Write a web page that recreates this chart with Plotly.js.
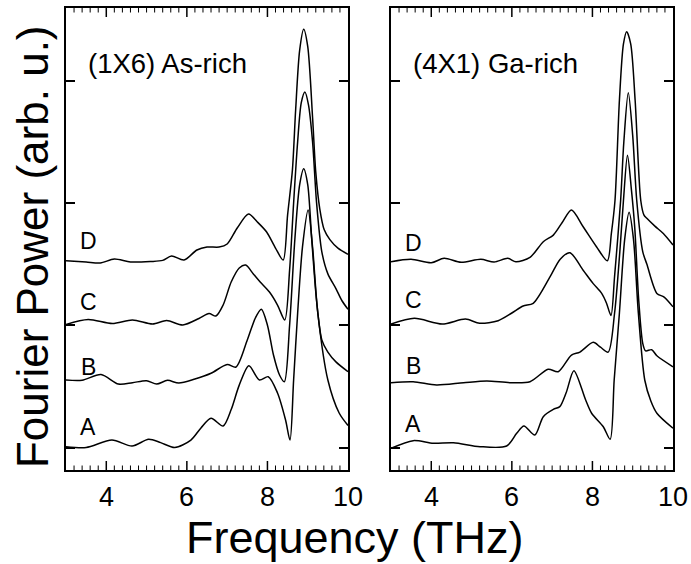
<!DOCTYPE html>
<html>
<head>
<meta charset="utf-8">
<script src="https://cdn.plot.ly/plotly-3.0.1.min.js"></script>
<style>html,body{margin:0;padding:0;background:#fff;}</style>
</head>
<body>
<div id="chart"></div>
<script>
// ---- Data (frequency in THz, Fourier power in arb. units incl. vertical offset) ----
const curveLabels = ["A", "B", "C", "D"];
const panelTitles = ["(1X6) As-rich", "(4X1) Ga-rich"];
const xTickVals = [4, 6, 8, 10];
const xMinorStep = 0.2;

// (1X6) As-rich
const asA_f = [3.0, 3.5, 4.14, 4.64, 5.05, 5.35, 5.7, 6.1, 6.35, 6.6, 6.9, 7.1, 7.3, 7.54, 7.8, 8.02, 8.25, 8.45, 8.56, 8.65, 8.75, 8.87, 9.01, 9.12, 9.25, 9.5, 9.78, 10.0];
const asA_y = [0.007, 0.0, 0.061, 0.012, 0.067, 0.04, 0.0, 0.061, 0.16, 0.239, 0.176, 0.31, 0.51, 0.669, 0.552, 0.579, 0.446, 0.225, 0.061, 0.552, 1.1, 1.64, 1.942, 1.64, 1.10, 0.552, 0.282, 0.18];

const asB_f = [3.0, 3.4, 3.87, 4.3, 4.65, 5.0, 5.25, 5.52, 5.8, 6.2, 6.6, 7.0, 7.22, 7.5, 7.7, 7.85, 8.0, 8.15, 8.3, 8.42, 8.55, 8.68, 8.8, 8.9, 9.0, 9.1, 9.22, 9.35, 9.5, 9.7, 10.0];
const asB_y = [0.552, 0.55, 0.597, 0.519, 0.53, 0.546, 0.519, 0.549, 0.527, 0.56, 0.607, 0.679, 0.658, 0.879, 1.059, 1.13, 1.0, 0.756, 0.593, 0.538, 1.0, 1.7, 2.15, 2.28, 2.15, 1.7, 1.2, 0.88, 0.78, 0.7, 0.62];

const asC_f = [3.0, 3.55, 4.15, 4.65, 5.15, 5.5, 5.9, 6.3, 6.55, 6.72, 6.9, 7.1, 7.3, 7.46, 7.65, 7.82, 8.05, 8.25, 8.43, 8.55, 8.65, 8.75, 8.84, 8.93, 9.02, 9.12, 9.22, 9.35, 9.5, 9.7, 9.85, 10.0];
const asC_y = [1.006, 1.047, 1.014, 1.043, 1.01, 1.038, 1.002, 1.055, 1.096, 1.075, 1.165, 1.353, 1.468, 1.492, 1.419, 1.353, 1.271, 1.165, 1.043, 1.45, 2.0, 2.5, 2.82, 2.907, 2.8, 2.5, 2.0, 1.6, 1.42, 1.3, 1.2, 1.13];

const asD_f = [3.0, 3.5, 3.85, 4.2, 4.6, 5.1, 5.4, 5.62, 5.93, 6.25, 6.5, 6.8, 7.0, 7.25, 7.53, 7.75, 7.98, 8.2, 8.39, 8.5, 8.62, 8.7, 8.8, 8.9, 9.0, 9.12, 9.2, 9.3, 9.41, 9.55, 9.75, 10.0];
const asD_y = [1.527, 1.517, 1.509, 1.541, 1.517, 1.521, 1.53, 1.566, 1.533, 1.615, 1.639, 1.639, 1.664, 1.795, 1.909, 1.844, 1.762, 1.631, 1.533, 1.9, 2.27, 2.76, 3.25, 3.42, 3.28, 2.7, 2.25, 1.95, 1.78, 1.7, 1.63, 1.58];

// (4X1) Ga-rich
const gaA_f = [3.0, 3.55, 4.05, 4.55, 5.21, 5.87, 6.12, 6.3, 6.57, 6.78, 7.03, 7.19, 7.35, 7.54, 7.83, 7.98, 8.27, 8.44, 8.54, 8.67, 8.8, 8.91, 9.02, 9.14, 9.3, 9.45, 9.6, 10.0];
const gaA_y = [-0.007, 0.056, 0.034, 0.039, 0.007, 0.012, 0.116, 0.176, 0.102, 0.252, 0.312, 0.334, 0.45, 0.628, 0.39, 0.28, 0.17, 0.067, 0.552, 1.1, 1.7, 1.923, 1.7, 1.1, 0.55, 0.38, 0.28, 0.157];

const gaB_f = [3.0, 3.55, 4.13, 4.8, 5.38, 5.95, 6.45, 6.9, 7.15, 7.48, 7.69, 8.02, 8.2, 8.39, 8.55, 8.68, 8.77, 8.87, 8.97, 9.05, 9.15, 9.25, 9.32, 9.47, 9.6, 10.0];
const gaB_y = [0.53, 0.538, 0.511, 0.53, 0.544, 0.53, 0.538, 0.64, 0.62, 0.756, 0.78, 0.86, 0.82, 0.78, 1.1, 1.6, 2.02, 2.39, 2.1, 1.8, 1.2, 0.85, 0.79, 0.8, 0.75, 0.66];

const gaC_f = [3.0, 3.58, 4.27, 4.85, 5.2, 5.66, 6.0, 6.28, 6.53, 6.95, 7.2, 7.44, 7.77, 8.02, 8.23, 8.35, 8.46, 8.55, 8.7, 8.78, 8.89, 9.0, 9.1, 9.25, 9.35, 9.6, 9.78, 10.0];
const gaC_y = [1.01, 1.056, 1.01, 1.05, 1.016, 1.037, 1.1, 1.157, 1.179, 1.397, 1.54, 1.593, 1.45, 1.34, 1.26, 1.18, 1.08, 1.4, 2.02, 2.5, 2.9, 2.55, 2.02, 1.6, 1.5, 1.26, 1.23, 1.15];

const gaD_f = [3.0, 3.5, 4.0, 4.32, 4.74, 5.23, 5.56, 5.9, 6.1, 6.45, 6.78, 7.03, 7.25, 7.48, 7.77, 8.1, 8.37, 8.47, 8.56, 8.67, 8.77, 8.85, 8.95, 9.06, 9.2, 9.28, 9.35, 9.55, 9.76, 10.0];
const gaD_y = [1.519, 1.539, 1.511, 1.547, 1.514, 1.539, 1.517, 1.547, 1.519, 1.555, 1.683, 1.737, 1.84, 1.942, 1.805, 1.642, 1.527, 1.75, 2.02, 2.84, 3.3, 3.4, 3.3, 2.84, 2.02, 1.9, 1.874, 1.81, 1.75, 1.656];

// ---- Build traces ----
const FONT = "Liberation Sans, Arial, Helvetica, sans-serif";
const lineStyle = {color: "#000", width: 1.5, shape: "spline", smoothing: 0.8};
function tr(f, y, xa, ya) {
  return {x: f, y: y, type: "scatter", mode: "lines", line: lineStyle, xaxis: xa, yaxis: ya, showlegend: false};
}
const traces = [
  tr(asA_f, asA_y, "x", "y"), tr(asB_f, asB_y, "x", "y"),
  tr(asC_f, asC_y, "x", "y"), tr(asD_f, asD_y, "x", "y"),
  tr(gaA_f, gaA_y, "x2", "y2"), tr(gaB_f, gaB_y, "x2", "y2"),
  tr(gaC_f, gaC_y, "x2", "y2"), tr(gaD_f, gaD_y, "x2", "y2")
];

const xRange = [3, 10];
const yRange = [-0.184, 3.594];
function xAxis(domain, anchor) {
  return {
    domain: domain, anchor: anchor, range: xRange,
    tickmode: "array", tickvals: xTickVals, showticklabels: false, ticks: "",
    showline: true, linewidth: 2, linecolor: "#000", mirror: true,
    showgrid: false, zeroline: false
  };
}
function yAxis(anchor) {
  return {
    anchor: anchor, range: yRange,
    tickmode: "array", tickvals: [0, 1, 2, 3], showticklabels: false,
    ticks: "inside", ticklen: 9, tickwidth: 1.5, tickcolor: "#000",
    showline: true, linewidth: 2, linecolor: "#000", mirror: "ticks",
    showgrid: false, zeroline: false
  };
}

// ---- Frequency-axis tick marks (inside, bottom and top), placed on each panel's x scale ----
const plotHeightPx = 564 - 8 - 94;
const majorLen = 9 / plotHeightPx, minorLen = 4.5 / plotHeightPx;
const shapes = [];
["x", "x2"].forEach(function (xa, p) {
  const yd = (p === 0 ? "y" : "y2") + " domain";
  const nSteps = Math.round((xRange[1] - xRange[0]) / xMinorStep);
  for (let k = 1; k < nSteps; k++) {
    const v = Math.round((xRange[0] + k * xMinorStep) * 10) / 10;
    const isMajor = xTickVals.indexOf(v) >= 0;
    const len = isMajor ? majorLen : minorLen;
    const ln = {color: "#000", width: isMajor ? 1.5 : 1};
    shapes.push({type: "line", xref: xa, yref: yd, x0: v, x1: v, y0: 0, y1: len, line: ln, layer: "above"});
    shapes.push({type: "line", xref: xa, yref: yd, x0: v, x1: v, y0: 1, y1: 1 - len, line: ln, layer: "above"});
  }
});

const annotations = [];
// x tick labels
["x", "x2"].forEach(function (xa) {
  xTickVals.forEach(function (v) {
    annotations.push({text: String(v), x: v, y: -0.0595, xref: xa, yref: "paper",
      showarrow: false, xanchor: "center", yanchor: "middle",
      font: {family: FONT, size: 27, color: "#000"}});
  });
});
// curve labels and panel titles
const labelX = [3.55, 3.55];
const labelYs = [[0.17, 0.66, 1.19, 1.69], [0.19, 0.67, 1.21, 1.67]];
["x", "x2"].forEach(function (xa, p) {
  const ya = p === 0 ? "y" : "y2";
  curveLabels.forEach(function (lab, i) {
    annotations.push({text: lab, x: labelX[p], y: labelYs[p][i], xref: xa, yref: ya,
      showarrow: false, xanchor: "center", yanchor: "middle",
      font: {family: FONT, size: 23, color: "#000"}});
  });
  annotations.push({text: panelTitles[p], x: 3.5, y: 3.14, xref: xa, yref: ya,
    showarrow: false, xanchor: "left", yanchor: "middle",
    font: {family: FONT, size: 27.5, color: "#000"}});
});
annotations.push({text: "Frequency (THz)", xref: "paper", yref: "paper", x: 0.476, y: -0.147,
  showarrow: false, xanchor: "center", yanchor: "middle",
  font: {family: FONT, size: 45, color: "#000"}});
annotations.push({text: "Fourier Power (arb. u.)", xref: "paper", yref: "paper", x: -0.054, y: 0.483,
  showarrow: false, textangle: -90, xanchor: "center", yanchor: "middle",
  font: {family: FONT, size: 44, color: "#000"}});

const layout = {
  width: 691, height: 564,
  margin: {l: 66, r: 18, t: 8, b: 94},
  showlegend: false,
  xaxis: xAxis([0, 0.4646], "y"),
  xaxis2: xAxis([0.5354, 1], "y2"),
  yaxis: yAxis("x"),
  yaxis2: yAxis("x2"),
  shapes: shapes,
  annotations: annotations
};

Plotly.newPlot("chart", traces, layout, {displayModeBar: false});
</script>
</body>
</html>
